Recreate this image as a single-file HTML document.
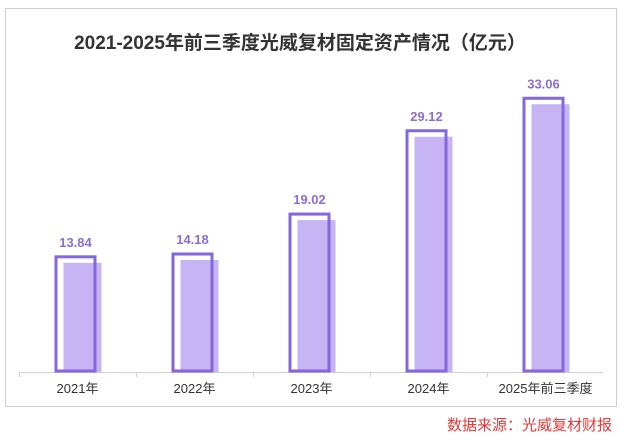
<!DOCTYPE html>
<html><head><meta charset="utf-8"><style>
body{margin:0;background:#fff;width:623px;height:441px;overflow:hidden;font-family:"Liberation Sans","Noto Sans CJK SC",sans-serif}
</style></head><body>
<svg id="chart" width="623" height="441" xmlns="http://www.w3.org/2000/svg">
<rect x="5.5" y="8.5" width="611" height="398" fill="#fff" stroke="#cfcfcf"/>
<text x="300" y="49" text-anchor="middle" font-size="19" font-weight="bold" fill="#333" font-family="Liberation Sans,Noto Sans CJK SC,sans-serif">2021-2025年前三季度光威复材固定资产情况（亿元）</text>
<line x1="19" y1="372.5" x2="603" y2="372.5" stroke="#d0d0d0"/>
<g id="bars"></g>
<text x="612" y="430" text-anchor="end" font-size="15" fill="#e03a3a" font-family="Liberation Sans,Noto Sans CJK SC,sans-serif">数据来源：光威复材财报</text>
</svg>
<script>
const categories=["2021年","2022年","2023年","2024年","2025年前三季度"];
const values=[13.84,14.18,19.02,29.12,33.06];
const valueLabels=["13.84","14.18","19.02","29.12","33.06"];
const NS="http://www.w3.org/2000/svg";
const g=document.getElementById('bars');
const x0=19,band=117,base=371,scale=8.25;
function xBand(i){return x0+band*i;}
function yVal(v){return base-v*scale;}
function mk(t,a){const e=document.createElementNS(NS,t);for(const k in a)e.setAttribute(k,a[k]);g.appendChild(e);return e;}
for(let i=0;i<5;i++){
  const c=xBand(i)+band/2-2,top=yVal(values[i]);
  const t=mk('line',{x1:xBand(i)+.5,y1:372,x2:xBand(i)+.5,y2:377,stroke:'#d0d0d0'});
  
  
  const f=mk('rect',{x:c-12,y:top+6,width:38,height:base-top-6+1,fill:'#c6b4f5'});
  
  
  const o=mk('rect',{x:c-19.5,y:top,width:39,height:base-top,fill:'none',stroke:'#8466dd','stroke-width':3});
  
  
  const l=mk('text',{x:c,y:top-10,'text-anchor':'middle','font-size':13,'font-weight':'bold',fill:'#8a6fd0'});
  l.textContent=valueLabels[i];
  
  
  const cl=mk('text',{x:xBand(i)+band/2,y:393,'text-anchor':'middle','font-size':13,fill:'#333'});
  cl.textContent=categories[i];
  
  
}
</script>
</body></html>
